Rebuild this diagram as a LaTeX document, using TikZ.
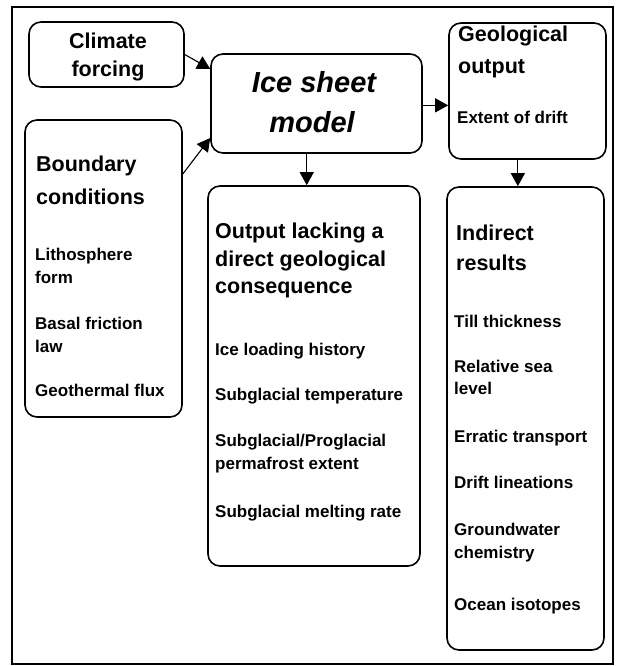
\documentclass[tikz,border=0pt]{standalone}
\usepackage{fontspec}
\setmainfont{Liberation Sans}
\usetikzlibrary{arrows.meta}
\begin{document}
\begin{tikzpicture}[x=1pt,y=-1pt,
  box/.style={draw, line width=1.6pt, rounded corners=12pt, inner sep=0pt},
  arr/.style={line width=1.1pt, -{Triangle[length=13pt,width=14pt]}},
  ttl/.style={anchor=base west, inner sep=0pt, font=\fontsize{21.5}{26}\selectfont\bfseries},
  ttlc/.style={ttl, anchor=base},
  itm/.style={anchor=base west, inner sep=0pt, font=\fontsize{17}{20}\selectfont\bfseries},
  big/.style={anchor=base, inner sep=0pt, font=\fontsize{29}{34}\selectfont\bfseries\itshape}]
\useasboundingbox (0,0) rectangle (617,666);
% outer frame
\draw[line width=1.8pt] (12,7) rectangle (613,664);

% boxes
\node[box, minimum width=155pt, minimum height=65pt]  (climate)  at (106.5,54.5) {};
\node[box, minimum width=157pt, minimum height=297pt] (boundary) at (103.5,268.5) {};
\node[box, minimum width=211pt, minimum height=99pt]  (ice)      at (316.5,103.5) {};
\node[box, minimum width=157pt, minimum height=136pt] (geo)      at (527.5,91) {};
\node[box, minimum width=212pt, minimum height=380pt] (lacking)  at (314,376) {};
\node[box, minimum width=157pt, minimum height=463pt] (indirect) at (525.5,418.5) {};

% climate forcing
\node[ttlc] (c1) at (108,49) {Climate};
\node[ttlc] (c2) at (108,77) {forcing};

% boundary conditions
\node[ttl] (b1) at (36,171.7) {Boundary};
\node[ttl] (b2) at (36,204) {conditions};
\node[itm] (b3) at (35,260) {Lithosphere};
\node[itm] (b4) at (35,283) {form};
\node[itm] (b5) at (35,329) {Basal friction};
\node[itm] (b6) at (35,352) {law};
\node[itm] (b7) at (35,396) {Geothermal flux};

% ice sheet model
\node[big] (i1) at (314,93) {Ice sheet};
\node[big] (i2) at (312,132) {model};

% geological output
\node[ttl] (g1) at (458,41.5) {Geological};
\node[ttl] (g2) at (458,73.5) {output};
\node[itm] (g3) at (457,123.5) {Extent of drift};

% output lacking a direct geological consequence
\node[ttl] (l1) at (215,238.5) {Output lacking a};
\node[ttl] (l2) at (215,266) {direct geological};
\node[ttl] (l3) at (215,293.5) {consequence};
\node[itm] (l4) at (215,355.5) {Ice loading history};
\node[itm] (l5) at (215,400.5) {Subglacial temperature};
\node[itm] (l6) at (215,446.5) {Subglacial/Proglacial};
\node[itm] (l7) at (215,469) {permafrost extent};
\node[itm] (l8) at (215,517) {Subglacial melting rate};

% indirect results
\node[ttl] (r1) at (456,240) {Indirect};
\node[ttl] (r2) at (456,270.7) {results};
\node[itm] (r3) at (454,327) {Till thickness};
\node[itm] (r4) at (454,372) {Relative sea};
\node[itm] (r5) at (454,394.3) {level};
\node[itm] (r6) at (454,442) {Erratic transport};
\node[itm] (r7) at (454,488.5) {Drift lineations};
\node[itm] (r8) at (454,535.5) {Groundwater};
\node[itm] (r9) at (454,558.5) {chemistry};
\node[itm] (r10) at (454,610) {Ocean isotopes};

% connectors
\draw[arr] (climate.east) -- (ice.162.4);
\draw[arr] (boundary.50.6) -- (ice.198.6);
\draw[arr] (ice.259.1) -- (ice.259.1 |- lacking.north);
\draw[arr] (ice.-1.4) -- (ice.-1.4 -| geo.west);
\draw[arr] (geo.262.9) -- (geo.262.9 |- indirect.north);
\end{tikzpicture}
\end{document}
